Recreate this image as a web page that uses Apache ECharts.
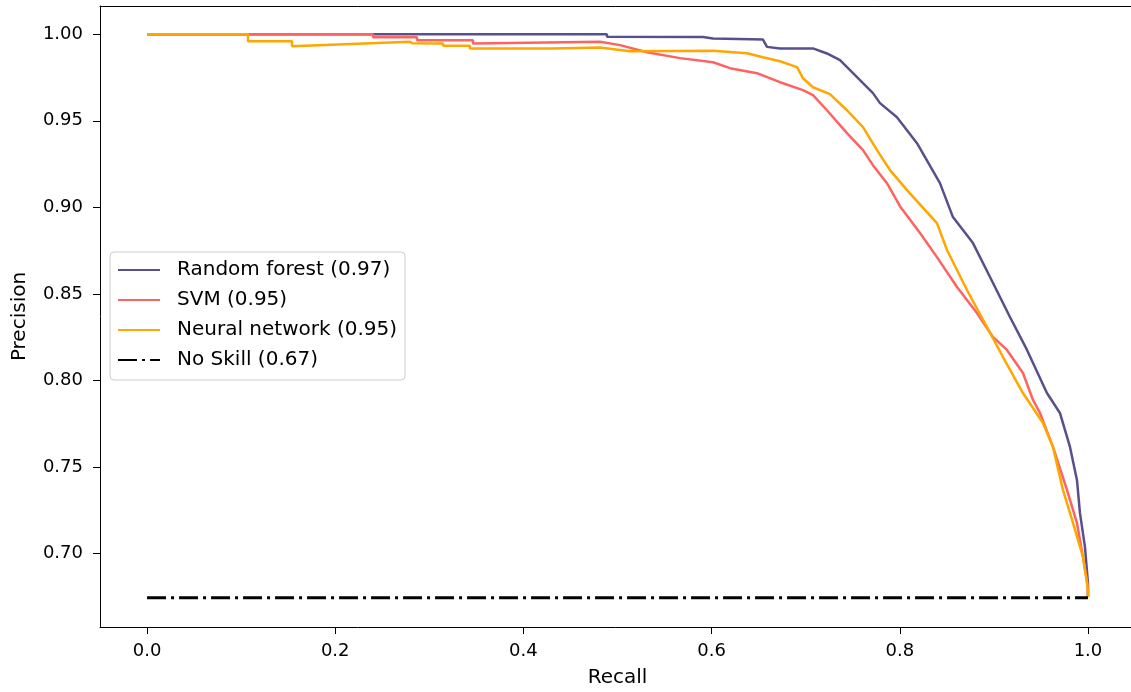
<!DOCTYPE html>
<html>
<head>
<meta charset="utf-8">
<script src="https://cdn.jsdelivr.net/npm/echarts@6/dist/echarts.min.js"></script>
<style>
html,body{margin:0;padding:0;background:#fff;overflow:hidden;}
#chart{width:1131px;height:692px;}
</style>
</head>
<body>
<div id="chart"></div>
<script>
// ---- Data ----
const seriesNames = ['Random forest (0.97)', 'SVM (0.95)', 'Neural network (0.95)', 'No Skill (0.67)'];

const rfRecall    = [0, 0.4888, 0.4888, 0.5909, 0.6015, 0.6546, 0.6589, 0.6727, 0.7078, 0.7226, 0.7365, 0.7503, 0.7609, 0.7715, 0.779, 0.797, 0.8183, 0.8427, 0.8565, 0.8778, 0.8959, 0.9171, 0.9352, 0.9564, 0.9702, 0.9809, 0.9883, 0.9915, 0.9968, 1.0, 1.0];
const rfPrecision = [1.0, 1.0, 0.9986, 0.9984, 0.9975, 0.9969, 0.9927, 0.9918, 0.9918, 0.9889, 0.985, 0.9775, 0.9717, 0.966, 0.9602, 0.9521, 0.9371, 0.914, 0.8944, 0.8794, 0.8598, 0.8367, 0.8177, 0.7928, 0.7813, 0.7617, 0.7426, 0.7236, 0.704, 0.6832, 0.675];

const svmRecall    = [0, 0.2402, 0.2402, 0.2869, 0.2869, 0.3464, 0.3464, 0.4814, 0.5027, 0.5313, 0.5664, 0.6015, 0.6196, 0.6482, 0.6727, 0.6971, 0.7078, 0.7226, 0.7439, 0.7609, 0.7715, 0.7864, 0.8002, 0.8215, 0.8395, 0.8608, 0.882, 0.899, 0.9139, 0.9309, 0.9416, 0.949, 0.9628, 0.9777, 0.9883, 0.9947, 1.0, 1.0];
const svmPrecision = [1.0, 1.0, 0.9983, 0.9983, 0.9965, 0.9965, 0.9946, 0.9956, 0.9937, 0.9896, 0.9862, 0.9838, 0.9804, 0.9775, 0.9723, 0.9677, 0.9648, 0.9561, 0.9429, 0.9331, 0.9244, 0.914, 0.9007, 0.8852, 0.8713, 0.854, 0.839, 0.8252, 0.8177, 0.8044, 0.7888, 0.7813, 0.7617, 0.7369, 0.7178, 0.6982, 0.6809, 0.675];

const nnRecall    = [0, 0.1073, 0.1073, 0.1541, 0.1541, 0.2795, 0.281, 0.282, 0.3146, 0.3146, 0.3432, 0.3432, 0.4315, 0.4315, 0.4814, 0.5133, 0.6015, 0.6376, 0.6546, 0.6727, 0.6908, 0.6971, 0.7078, 0.7258, 0.7439, 0.7609, 0.7758, 0.7896, 0.8077, 0.8395, 0.8502, 0.8714, 0.8927, 0.9097, 0.9309, 0.9522, 0.9628, 0.9734, 0.9841, 0.9947, 1.0, 1.0];
const nnPrecision = [1.0, 1.0, 0.996, 0.996, 0.9931, 0.9956, 0.9965, 0.9948, 0.9946, 0.9933, 0.9933, 0.9918, 0.9918, 0.9923, 0.9923, 0.9902, 0.9905, 0.989, 0.9867, 0.9844, 0.981, 0.9746, 0.9694, 0.9654, 0.9561, 0.9463, 0.9331, 0.9215, 0.91, 0.8909, 0.8754, 0.8523, 0.8309, 0.8136, 0.7928, 0.7755, 0.7617, 0.7369, 0.7178, 0.6982, 0.6792, 0.675];

const noSkillRecall    = [0, 1];
const noSkillPrecision = [0.6746, 0.6746];

const xTicks = [0, 0.2, 0.4, 0.6, 0.8, 1.0];
const yTicks = [0.70, 0.75, 0.80, 0.85, 0.90, 0.95, 1.00];

const colors = ['#58508d', '#ff6361', '#ffa600', '#000000'];

function zip(a, b) { return a.map((v, i) => [v, b[i]]); }

const FONT = 'DejaVu Sans';
const chart = echarts.init(document.getElementById('chart'), null, {renderer: 'canvas', width: 1131, height: 692});

const baseLine = (name, x, y, color, width, type, z) => ({
  name: name,
  type: 'line',
  xAxisIndex: 0,
  yAxisIndex: 0,
  data: zip(x, y),
  symbol: 'none',
  showSymbol: false,
  smooth: false,
  z: z,
  animation: false,
  lineStyle: {color: color, width: width, type: type, cap: 'butt'},
  itemStyle: {color: color}
});

chart.setOption({
  animation: false,
  backgroundColor: '#ffffff',
  textStyle: {fontFamily: FONT},
  grid: {
    left: 100, top: 6, width: 1035, height: 621,
    outerBoundsMode: 'none', containLabel: false,
    show: false
  },
  legend: {
    orient: 'vertical',
    left: 110, top: 252,
    data: seriesNames,
    backgroundColor: 'rgba(255,255,255,0.8)',
    borderColor: '#cccccc', borderWidth: 1, borderRadius: 4,
    padding: [8, 8, 10, 7],
    itemWidth: 42, itemHeight: 18, itemGap: 10,
    itemStyle: {opacity: 0, color: 'transparent', borderWidth: 0},
    textStyle: {fontFamily: FONT, fontSize: 20, color: '#000', padding: [0, 0, 0, 12]},
    selectedMode: false
  },
  xAxis: [{
    type: 'value', min: -0.05, max: 1.05,
    name: 'Recall', nameLocation: 'middle', nameGap: 41,
    nameTextStyle: {fontFamily: FONT, fontSize: 20, color: '#000', verticalAlign: 'top'},
    axisLine: {show: true, onZero: false, lineStyle: {color: '#000', width: 1}},
    axisTick: {show: true, length: 7, inside: false, customValues: xTicks, lineStyle: {color: '#000'}},
    axisLabel: {customValues: xTicks, margin: 15, fontFamily: FONT, fontSize: 18, color: '#000',
      formatter: v => v.toFixed(1)},
    splitLine: {show: false}
  }, {
    type: 'value', min: -0.05, max: 1.05, position: 'top',
    axisLine: {show: true, onZero: false, lineStyle: {color: '#000', width: 1}},
    axisTick: {show: false}, axisLabel: {show: false}, splitLine: {show: false}
  }],
  yAxis: {
    type: 'value', min: 0.6577, max: 1.0163,
    name: 'Precision', nameLocation: 'middle', nameGap: 70, nameRotate: 90,
    nameTextStyle: {fontFamily: FONT, fontSize: 20, color: '#000'},
    axisLine: {show: true, onZero: false, lineStyle: {color: '#000', width: 1}},
    axisTick: {show: true, length: 7, inside: false, customValues: yTicks, lineStyle: {color: '#000'}},
    axisLabel: {customValues: yTicks, margin: 17, fontFamily: FONT, fontSize: 18, color: '#000',
      formatter: v => v.toFixed(2)},
    splitLine: {show: false}
  },
  series: [
    baseLine(seriesNames[0], rfRecall, rfPrecision, colors[0], 2.5, 'solid', 2),
    baseLine(seriesNames[1], svmRecall, svmPrecision, colors[1], 2.5, 'solid', 3),
    baseLine(seriesNames[2], nnRecall, nnPrecision, colors[2], 2.5, 'solid', 4),
    baseLine(seriesNames[3], noSkillRecall, noSkillPrecision, colors[3], 3, [19, 5, 3, 5], 5)
  ]
});
</script>
</body>
</html>
